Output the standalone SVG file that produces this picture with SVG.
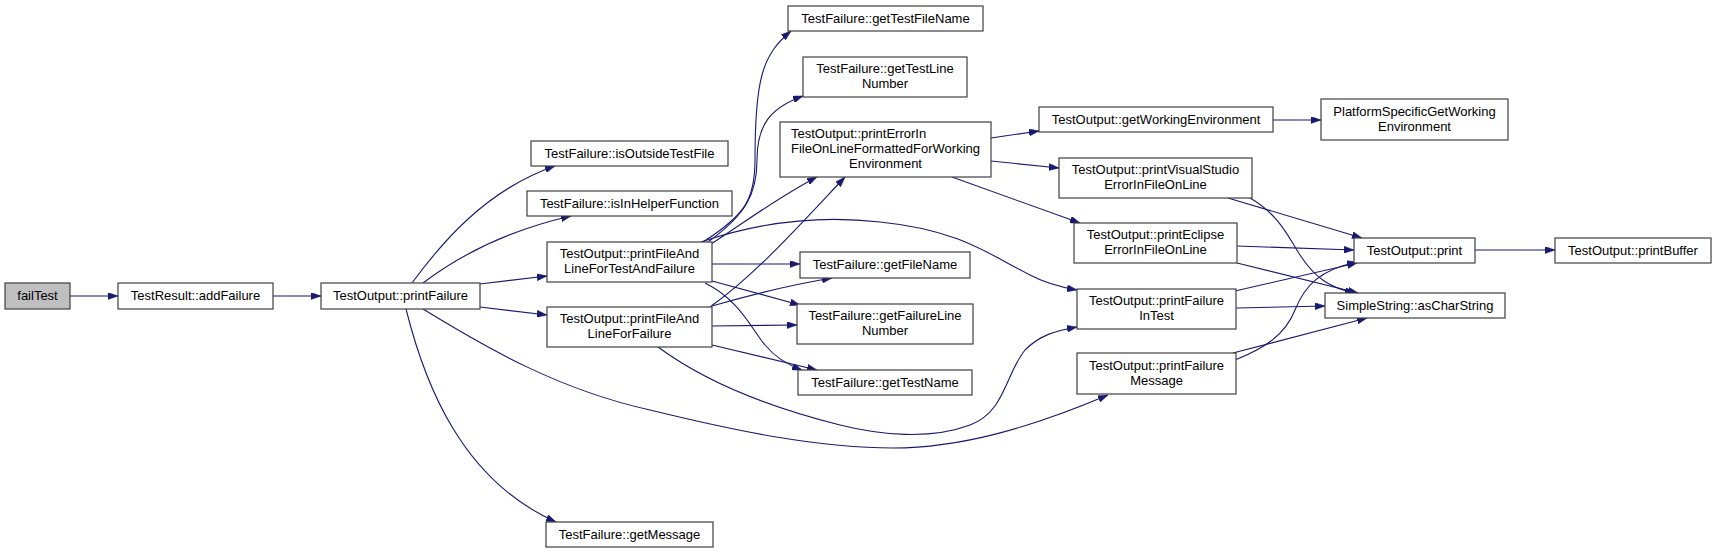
<svg xmlns="http://www.w3.org/2000/svg" width="1716" height="553" viewBox="0 0 1716 553">
<style>
.n rect{fill:#ffffff;stroke:#404040;stroke-width:1.2}
.n text{font-family:"Liberation Sans",Arial,Helvetica,sans-serif;font-size:13px;fill:#000000;text-anchor:middle}
.n text.l{text-anchor:start}
#edges path{fill:none;stroke:#191970;stroke-width:1.1;marker-end:url(#ah)}
</style>
<defs>
<marker id="ah" markerUnits="userSpaceOnUse" viewBox="0 0 10 7" refX="10" refY="3.5" markerWidth="10" markerHeight="7" orient="auto">
<path d="M0,0 L10,3.5 L0,7 Z" fill="#191970" stroke="#191970" stroke-width="0.5"/>
</marker>
</defs>
<rect width="1716" height="553" fill="#ffffff"/>
<g id="edges">
<path d="M70,296 L118,296"/>
<path d="M273,296 L321,296"/>
<path d="M412,283 C440,245 485,190 555,166"/>
<path d="M423,283 C460,255 510,230 571,216"/>
<path d="M480,284 L547,276"/>
<path d="M480,307 L547,315"/>
<path d="M406,309 C425,385 462,480 556,522"/>
<path d="M423,309 C490,350 560,390 650,410 C740,432 820,448 893,448 C960,448 1030,428 1108,395"/>
<path d="M703,242 C745,215 755,200 755,160 C755,80 762,55 791,31"/>
<path d="M708,242 C745,215 757,195 757,160 C757,125 770,108 803,96"/>
<path d="M711,244 C745,222 780,196 817,177"/>
<path d="M712,264 L800,264"/>
<path d="M712,281 L800,305"/>
<path d="M705,283 C740,300 752,330 765,345 C775,357 788,365 802,370"/>
<path d="M701,242 C760,222 820,215 880,222 C960,230 990,255 1030,275 C1045,283 1060,287 1077,290"/>
<path d="M710,307 C755,275 795,230 845,177"/>
<path d="M712,306 C750,295 790,285 832,278"/>
<path d="M712,326 L797,325"/>
<path d="M712,345 L817,370"/>
<path d="M658,347 C700,378 760,405 840,425 C880,435 930,440 970,425 C1005,412 1005,375 1025,350 C1040,335 1055,331 1077,327"/>
<path d="M991,138 L1039,131"/>
<path d="M991,161 L1059,168"/>
<path d="M952,177 L1080,223"/>
<path d="M1273,120 L1321,120"/>
<path d="M1228,198 L1362,238"/>
<path d="M1250,198 C1280,215 1290,240 1300,255 C1315,278 1330,288 1355,293"/>
<path d="M1237,246 L1354,250"/>
<path d="M1237,263 L1358,293"/>
<path d="M1235,291 L1357,263"/>
<path d="M1236,308 L1325,306"/>
<path d="M1235,360 C1265,348 1285,335 1295,310 C1305,285 1320,270 1357,262"/>
<path d="M1233,353 L1367,318"/>
<path d="M1475,250 L1555,250"/>
</g>
<g id="failTest" class="n"><rect x="5" y="283" width="65" height="26" style="fill:#bfbfbf"/><text x="37.5" y="300">failTest</text></g>
<g id="addFailure" class="n"><rect x="118" y="283" width="155" height="26"/><text x="195.5" y="300">TestResult::addFailure</text></g>
<g id="printFailure" class="n"><rect x="321" y="283" width="159" height="26"/><text x="400.5" y="300">TestOutput::printFailure</text></g>
<g id="isOutsideTestFile" class="n"><rect x="531" y="141" width="197" height="25"/><text x="629.5" y="157.5">TestFailure::isOutsideTestFile</text></g>
<g id="isInHelperFunction" class="n"><rect x="527" y="191" width="205" height="25"/><text x="629.5" y="207.5">TestFailure::isInHelperFunction</text></g>
<g id="printFileAndLineForTestAndFailure" class="n"><rect x="547" y="242" width="165" height="40"/><text x="629.5" y="258">TestOutput::printFileAnd</text><text x="629.5" y="273">LineForTestAndFailure</text></g>
<g id="printFileAndLineForFailure" class="n"><rect x="547" y="307" width="165" height="40"/><text x="629.5" y="323">TestOutput::printFileAnd</text><text x="629.5" y="338">LineForFailure</text></g>
<g id="getTestFileName" class="n"><rect x="788" y="6" width="195" height="25"/><text x="885.5" y="22.5">TestFailure::getTestFileName</text></g>
<g id="getTestLineNumber" class="n"><rect x="803" y="57" width="164" height="40"/><text x="885" y="73">TestFailure::getTestLine</text><text x="885" y="88">Number</text></g>
<g id="printErrorInFileOnLineFormattedForWorkingEnvironment" class="n"><rect x="780" y="122" width="211" height="55"/><text class="l" x="791" y="138">TestOutput::printErrorIn</text><text x="885.5" y="153">FileOnLineFormattedForWorking</text><text x="885.5" y="167.5">Environment</text></g>
<g id="getFileName" class="n"><rect x="800" y="252" width="170" height="26"/><text x="885" y="269">TestFailure::getFileName</text></g>
<g id="getFailureLineNumber" class="n"><rect x="797" y="304" width="176" height="40"/><text x="885" y="320">TestFailure::getFailureLine</text><text x="885" y="335">Number</text></g>
<g id="getTestName" class="n"><rect x="798" y="370" width="174" height="25"/><text x="885" y="386.5">TestFailure::getTestName</text></g>
<g id="getMessage" class="n"><rect x="546" y="522" width="167" height="25"/><text x="629.5" y="538.5">TestFailure::getMessage</text></g>
<g id="getWorkingEnvironment" class="n"><rect x="1039" y="107" width="234" height="25"/><text x="1156" y="123.5">TestOutput::getWorkingEnvironment</text></g>
<g id="PlatformSpecificGetWorkingEnvironment" class="n"><rect x="1321" y="99" width="187" height="41"/><text x="1414.5" y="115.5">PlatformSpecificGetWorking</text><text x="1414.5" y="130.5">Environment</text></g>
<g id="printVisualStudioErrorInFileOnLine" class="n"><rect x="1059" y="158" width="193" height="40"/><text x="1155.5" y="174">TestOutput::printVisualStudio</text><text x="1155.5" y="189">ErrorInFileOnLine</text></g>
<g id="printEclipseErrorInFileOnLine" class="n"><rect x="1074" y="223" width="163" height="40"/><text x="1155.5" y="239">TestOutput::printEclipse</text><text x="1155.5" y="254">ErrorInFileOnLine</text></g>
<g id="printFailureInTest" class="n"><rect x="1077" y="289" width="159" height="40"/><text x="1156.5" y="305">TestOutput::printFailure</text><text x="1156.5" y="320">InTest</text></g>
<g id="printFailureMessage" class="n"><rect x="1077" y="353" width="159" height="41"/><text x="1156.5" y="369.5">TestOutput::printFailure</text><text x="1156.5" y="384.5">Message</text></g>
<g id="print" class="n"><rect x="1354" y="238" width="121" height="25"/><text x="1414.5" y="254.5">TestOutput::print</text></g>
<g id="asCharString" class="n"><rect x="1325" y="293" width="180" height="25"/><text x="1415" y="309.5">SimpleString::asCharString</text></g>
<g id="printBuffer" class="n"><rect x="1555" y="238" width="156" height="25"/><text x="1633" y="254.5">TestOutput::printBuffer</text></g>
</svg>
